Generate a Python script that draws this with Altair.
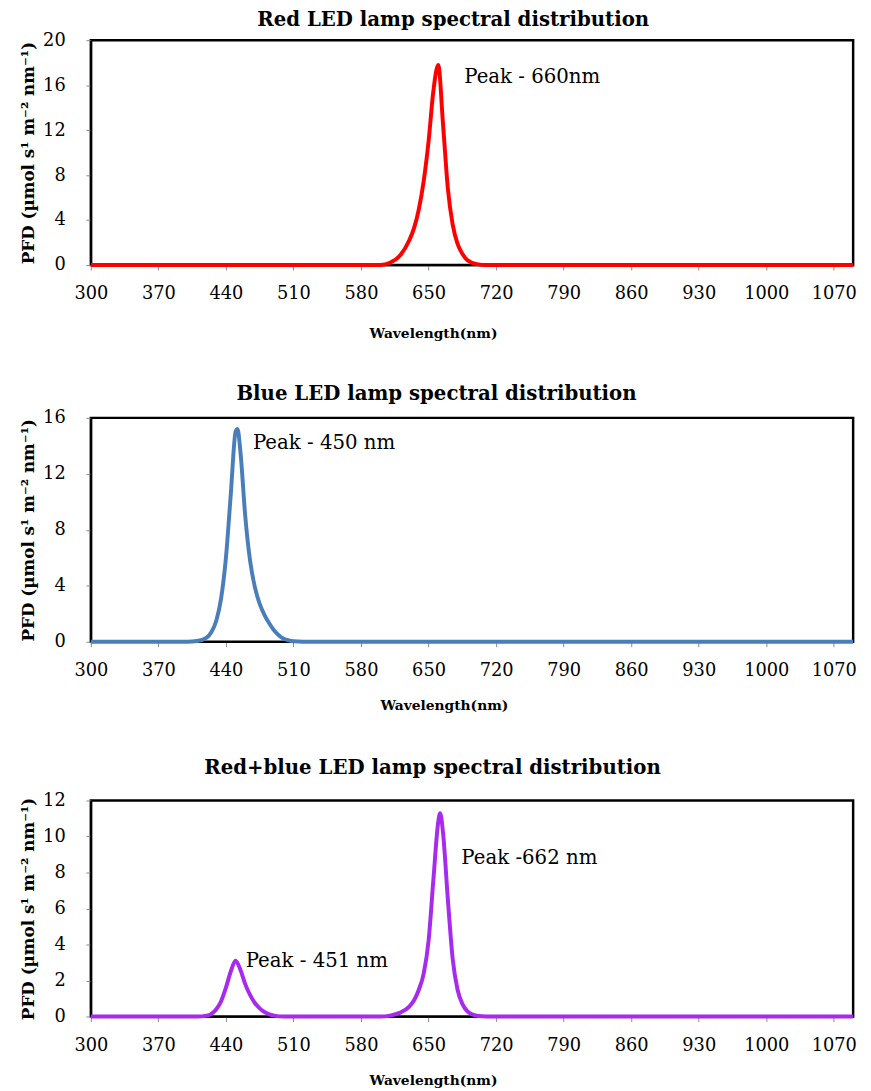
import altair as alt
import pandas as pd

# ---- data ----
red_wl = [300, 600, 610, 620, 630, 635, 640, 645, 650, 655, 660, 665, 670, 675, 680, 685, 690, 700, 710, 1090]
red_pfd = [0, 0, 0.2, 0.8, 2.2, 3.3, 5.0, 7.5, 11.0, 15.5, 17.8, 12.5, 6.8, 3.6, 1.9, 1.0, 0.45, 0.08, 0, 0]

blue_wl = [300, 400, 410, 420, 425, 430, 435, 440, 445, 450, 452, 455, 460, 465, 470, 475, 480, 485, 490, 495, 500, 505, 510, 520, 1090]
blue_pfd = [0, 0, 0.05, 0.3, 0.7, 1.5, 3.1, 6.0, 10.5, 15.0, 15.2, 13.6, 9.0, 5.8, 3.9, 2.7, 1.9, 1.3, 0.8, 0.45, 0.22, 0.1, 0.03, 0, 0]

mix_wl = [300, 410, 420, 425, 430, 435, 440, 445, 450, 455, 460, 465, 470, 475, 480, 485, 490, 500,
          600, 610, 620, 630, 635, 640, 645, 650, 655, 660, 662, 665, 670, 675, 680, 685, 690, 695, 700, 710, 1090]
mix_pfd = [0, 0, 0.05, 0.15, 0.4, 0.85, 1.6, 2.5, 3.1, 2.6, 1.8, 1.2, 0.75, 0.45, 0.25, 0.12, 0.05, 0,
           0, 0.05, 0.2, 0.55, 0.9, 1.5, 2.4, 4.2, 7.6, 10.8, 11.3, 10.2, 6.5, 3.2, 1.5, 0.7, 0.3, 0.12, 0.04, 0, 0]

x_ticks = [300, 370, 440, 510, 580, 650, 720, 790, 860, 930, 1000, 1070]

titles = ["Red LED lamp spectral distribution",
          "Blue LED lamp spectral distribution",
          "Red+blue LED lamp spectral distribution"]

red_notes_x = [687]
red_notes_y = [16.75]
red_notes = ["Peak - 660nm"]
blue_notes_x = [468]
blue_notes_y = [14.2]
blue_notes = ["Peak - 450 nm"]
mix_notes_x = [684, 460.5]
mix_notes_y = [8.8, 3.1]
mix_notes = ["Peak -662 nm", "Peak - 451 nm"]

SERIF = "DejaVu Serif"
YTITLE = "PFD (\u00b5mol s\u00b9 m\u207b\u00b2 nm\u207b\u00b9)"


def panel(wl, pfd, color, title, ymax, ystep, dx, toff, xtx, xtp, nx, ny, nt, height):
    df = pd.DataFrame({"wl": wl, "pfd": pfd})
    notes = pd.DataFrame({"x": nx, "y": ny, "t": nt})
    xs = alt.Scale(domain=[300, 1090], nice=False)
    ys = alt.Scale(domain=[0, ymax], nice=False)
    xax = alt.Axis(title="Wavelength(nm)", values=x_ticks, grid=False, format="d",
                   tickSize=5, tickColor="#888888", labelPadding=15, labelFlush=False,
                   labelFont=SERIF, labelFontSize=18, labelColor="#000000",
                   titleFont=SERIF, titleFontSize=14, titleFontWeight="bold",
                   titleColor="#000000", titlePadding=xtp, titleX=xtx,
                   domainColor="#000000", domainWidth=1.5)
    yax = alt.Axis(title=YTITLE, values=list(range(0, ymax + 1, ystep)), grid=False,
                   tickSize=5, tickColor="#888888", labelPadding=21, labelOverlap=False,
                   labelFlush=False,
                   labelFont=SERIF, labelFontSize=18, labelColor="#000000",
                   titleFont=SERIF, titleFontSize=17, titleFontWeight="bold",
                   titleColor="#000000", titlePadding=5,
                   domainColor="#000000", domainWidth=2)
    line = alt.Chart(df).mark_line(color=color, strokeWidth=4, interpolate="monotone").encode(
        x=alt.X("wl:Q", scale=xs, axis=xax),
        y=alt.Y("pfd:Q", scale=ys, axis=yax),
    )
    text = alt.Chart(notes).mark_text(align="left", baseline="middle", font=SERIF,
                                      fontSize=20, color="#000000").encode(
        x=alt.X("x:Q", scale=xs, axis=xax), y=alt.Y("y:Q", scale=ys, axis=yax), text="t:N")
    return alt.layer(line, text).properties(
        width=773, height=height,
        title=alt.TitleParams(title, font=SERIF, fontSize=20, fontWeight="bold",
                              anchor="middle", frame="group", dx=dx, offset=toff, color="#000000"))


p1 = panel(red_wl, red_pfd, "#FF0000", titles[0], 20, 4, -19, 1, 347, 24,
           red_notes_x, red_notes_y, red_notes, 228)
p2 = panel(blue_wl, blue_pfd, "#4A7EBB", titles[1], 16, 4, -36, 5, 358, 20,
           blue_notes_x, blue_notes_y, blue_notes, 227)
p3 = panel(mix_wl, mix_pfd, "#A62AF0", titles[2], 12, 2, -40, 14, 347, 20,
           mix_notes_x, mix_notes_y, mix_notes, 219)

lower = alt.vconcat(p2, p3, spacing=42)
chart = alt.vconcat(p1, lower, spacing=41).properties(
    padding={"left": 10, "top": -7, "right": 0, "bottom": 0}
).configure_view(stroke="#000000", strokeWidth=2.5)

chart.save("out.html", embed_options={"renderer": "svg", "actions": False})
